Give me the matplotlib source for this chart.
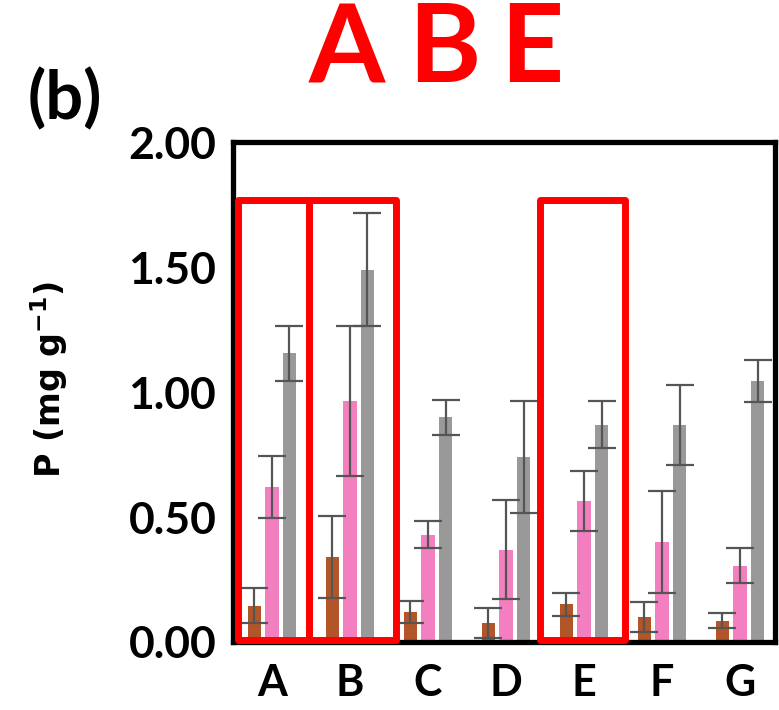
import numpy as np
import matplotlib.pyplot as plt
from matplotlib.patches import Rectangle

# values
groups = ['A', 'B', 'C', 'D', 'E', 'F', 'G']
brown = [0.145, 0.34, 0.12, 0.077, 0.15, 0.10, 0.085]
brown_err = [0.07, 0.165, 0.045, 0.06, 0.045, 0.06, 0.03]
pink = [0.62, 0.965, 0.43, 0.37, 0.565, 0.40, 0.305]
pink_err = [0.125, 0.30, 0.055, 0.20, 0.12, 0.205, 0.07]
gray = [1.155, 1.49, 0.90, 0.74, 0.87, 0.87, 1.045]
gray_err = [0.11, 0.225, 0.07, 0.225, 0.095, 0.16, 0.085]
yticks = [0.0, 0.5, 1.0, 1.5, 2.0]
highlight = ['A', 'B', 'E']

plt.rcParams['font.family'] = ['Lato', 'DejaVu Sans']
plt.rcParams['font.weight'] = 'bold'
plt.rcParams['axes.labelweight'] = 'bold'

fig = plt.figure(figsize=(7.79, 7.10), dpi=100)
ax = fig.add_axes([0.299, 0.0958, 0.696, 0.704])

x = np.arange(len(groups))
w = 0.175
off = 0.225
ekw = dict(ecolor='#555555', elinewidth=1.6, capsize=10, capthick=1.6)
ax.bar(x - off, brown, w, yerr=brown_err, color='#B2562A', error_kw=ekw, zorder=2)
ax.bar(x, pink, w, yerr=pink_err, color='#F47FC0', error_kw=ekw, zorder=2)
ax.bar(x + off, gray, w, yerr=gray_err, color='#999999', error_kw=ekw, zorder=2)

ax.set_xlim(-0.5, 6.45)
ax.set_ylim(0, 2.0)
ax.set_yticks(yticks)
ax.set_yticklabels(['%.2f' % v for v in yticks])
ax.set_xticks(x)
ax.set_xticklabels(groups)
ax.tick_params(axis='y', direction='in', length=6, width=2.5, labelsize=32, pad=12)
ax.tick_params(axis='x', length=0, labelsize=31, pad=15)
for s in ax.spines.values():
    s.set_linewidth(3.8)

# y label in DejaVu bold, with mathtext superscript
plt.rcParams['mathtext.fontset'] = 'dejavusans'
plt.rcParams['mathtext.default'] = 'bf'
ax.set_ylabel('P (mg g$^{-1}$)', fontsize=24, fontweight='bold', family='DejaVu Sans')
ax.yaxis.set_label_coords(-0.30, 0.525)

# red boxes around highlighted groups
box_spans = [(-0.44, 0.47), (0.47, 1.59), (3.44, 4.53)]
for x0, x1 in box_spans:
    ax.add_patch(Rectangle((x0, 0.008), x1 - x0, 1.77 - 0.008, fill=False,
                           edgecolor='#FF0000', linewidth=5, joinstyle='round',
                           clip_on=False, zorder=5))

fig.text(0.083, 0.859, '(b)', fontsize=48, ha='center', va='center')
letter_x = [0.445, 0.570, 0.683]
for lx, s in zip(letter_x, highlight):
    fig.text(lx, 0.8845, s, fontsize=79, color='#FF0000', ha='center', va='baseline')

plt.savefig('out.png', dpi=100)
plt.close()
